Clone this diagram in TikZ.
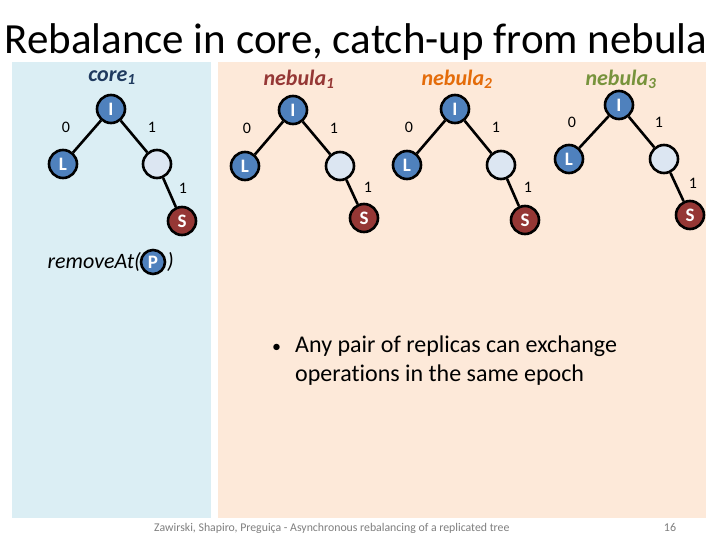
\documentclass[tikz,border=0pt]{standalone}
\usepackage{fontspec}
\setmainfont{Carlito}[Ligatures=NoCommon]
\definecolor{bluebg}{HTML}{DBEEF4}
\definecolor{orangebg}{HTML}{FDE9D9}
\definecolor{nodeblue}{HTML}{4F81BD}
\definecolor{nodelight}{HTML}{DCE6F2}
\definecolor{nodered}{HTML}{953735}
\definecolor{coreblue}{HTML}{1F3A5F}
\definecolor{nebA}{HTML}{953735}
\definecolor{nebB}{HTML}{E46C0A}
\definecolor{nebC}{HTML}{77933C}
\definecolor{footgray}{HTML}{7F7F7F}
\tikzset{
  tnode/.style={circle, draw=black, line width=2.6pt, minimum size=28pt, inner sep=0pt,
    text=white, font=\fontsize{19}{19}\selectfont\bfseries},
  bnode/.style={tnode, fill=nodeblue},
  enode/.style={tnode, fill=nodelight},
  snode/.style={tnode, fill=nodered},
  tedge/.style={line width=2.6pt, black},
  elabel/.style={font=\fontsize{16}{16}\selectfont, inner sep=0pt},
  tlabel/.style={font=\fontsize{22}{22}\selectfont\bfseries\itshape, inner sep=0pt}
}
\begin{document}
\begin{tikzpicture}[x=1pt,y=-1pt]
\useasboundingbox (0,0) rectangle (720,540);
\fill[white] (0,0) rectangle (720,540);
\fill[bluebg] (12,62) rectangle (211,518);
\fill[orangebg] (218,62) rectangle (706,518);

\node[font=\fontsize{43}{43}\selectfont, inner sep=0pt] (title) at (356,42) {Rebalance in core, catch-up from nebula};

% core_1
\node[tlabel, text=coreblue] (cl) at (112,78) {core\textsubscript{1}};
\node[bnode] (c1) at (111,109) {I};
\node[bnode] (c2) at (63,164) {L};
\node[enode] (c3) at (157,164) {};
\node[snode] (c4) at (182,221) {S};
\draw[tedge] (c1) -- (c2);
\draw[tedge] (c1) -- (c3);
\draw[tedge] (c3) -- (c4);
\node[elabel] (c1l) at (66,127) {0};
\node[elabel] (c1r) at (152,127) {1};
\node[elabel] (c3r) at (183,188) {1};

% nebula_1
\node[tlabel, text=nebA] (al) at (299,79) {nebula\textsubscript{1}};
\node[bnode] (a1) at (293,110) {I};
\node[bnode] (a2) at (245,166) {L};
\node[enode] (a3) at (340,166) {};
\node[snode] (a4) at (364,218) {S};
\draw[tedge] (a1) -- (a2);
\draw[tedge] (a1) -- (a3);
\draw[tedge] (a3) -- (a4);
\node[elabel] (a1l) at (247,128) {0};
\node[elabel] (a1r) at (334,128) {1};
\node[elabel] (a3r) at (368,187) {1};

% nebula_2
\node[tlabel, text=nebB] (bl) at (457,79) {nebula\textsubscript{2}};
\node[bnode] (b1) at (455,109) {I};
\node[bnode] (b2) at (407,165) {L};
\node[enode] (b3) at (501,165) {};
\node[snode] (b4) at (525,220) {S};
\draw[tedge] (b1) -- (b2);
\draw[tedge] (b1) -- (b3);
\draw[tedge] (b3) -- (b4);
\node[elabel] (b1l) at (409,127) {0};
\node[elabel] (b1r) at (496,127) {1};
\node[elabel] (b3r) at (528,187) {1};

% nebula_3
\node[tlabel, text=nebC] (dl) at (621,79) {nebula\textsubscript{3}};
\node[bnode] (d1) at (619,105) {I};
\node[bnode] (d2) at (569,159) {L};
\node[enode] (d3) at (664,159) {};
\node[snode] (d4) at (690,215) {S};
\draw[tedge] (d1) -- (d2);
\draw[tedge] (d1) -- (d3);
\draw[tedge] (d3) -- (d4);
\node[elabel] (d1l) at (572,122) {0};
\node[elabel] (d1r) at (659,122) {1};
\node[elabel] (d3r) at (693,183) {1};

% removeAt
\node[font=\fontsize{22}{22}\selectfont\itshape, inner sep=0pt, anchor=east] (rm) at (141,262) {removeAt(};
\node[font=\fontsize{22}{22}\selectfont\itshape, inner sep=0pt, anchor=west] (rp) at (167,262) {)};
\node[bnode, minimum size=24pt, font=\fontsize{19}{19}\selectfont\bfseries] (p) at (153,262) {P};

% bullet
\node[font=\fontsize{24}{29}\selectfont, inner sep=0pt, anchor=base west, align=left] (bul) at (272,381)
  {\makebox[23pt][l]{\fontsize{18}{18}\selectfont •}Any pair of replicas can exchange\\\hspace*{23pt}operations in the same epoch};

% footer
\node[font=\fontsize{11.8}{12}\selectfont, text=footgray, inner sep=0pt, anchor=base west] (foot) at (154,531)
  {Zawirski, Shapiro, Preguiça - Asynchronous rebalancing of a replicated tree};
\node[font=\fontsize{12}{12}\selectfont, text=footgray, inner sep=0pt, anchor=base] (pg) at (670,531) {16};
\end{tikzpicture}
\end{document}
